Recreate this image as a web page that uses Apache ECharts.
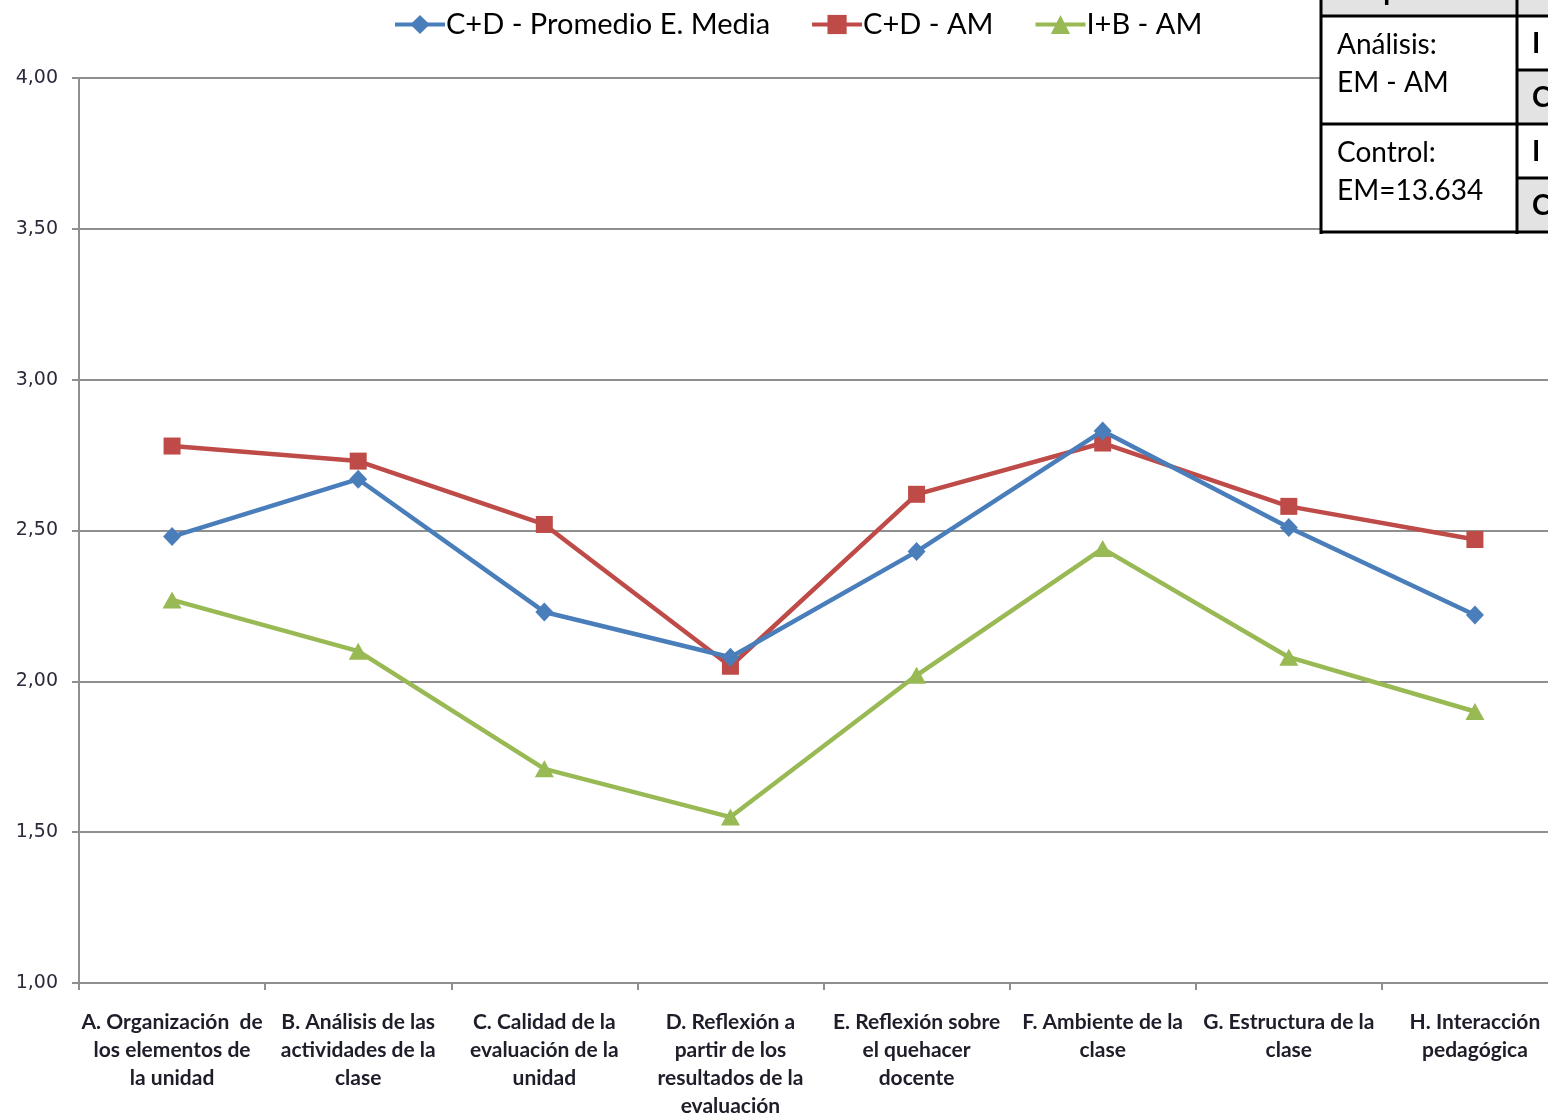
<!DOCTYPE html>
<html>
<head>
<meta charset="utf-8">
<script src="https://cdn.jsdelivr.net/npm/echarts@6/dist/echarts.min.js"></script>
<style>
html,body{margin:0;padding:0;background:#fff;overflow:hidden;width:1548px;height:1116px;}
#chart{width:1572px;height:1116px;}
</style>
</head>
<body>
<div id="chart"></div>
<script>
const categories = [
  "A. Organización  de\nlos elementos de\nla unidad",
  "B. Análisis de las\nactividades de la\nclase",
  "C. Calidad de la\nevaluación de la\nunidad",
  "D. Reflexión a\npartir de los\nresultados de la\nevaluación",
  "E. Reflexión sobre\nel quehacer\ndocente",
  "F. Ambiente de la\nclase",
  "G. Estructura de la\nclase",
  "H. Interacción\npedagógica"
];
const seriesNames = ["C+D - Promedio E. Media", "C+D - AM", "I+B - AM"];
const promedioEMedia = [2.48, 2.67, 2.23, 2.08, 2.43, 2.83, 2.51, 2.22];
const cdAM = [2.78, 2.73, 2.52, 2.05, 2.62, 2.79, 2.58, 2.47];
const ibAM = [2.27, 2.10, 1.71, 1.55, 2.02, 2.44, 2.08, 1.90];
const yMin = 1, yMax = 4, yStep = 0.5;
const tableLeftTexts = [["Análisis:", "EM - AM"], ["Control:", "EM=13.634"]];
const tableRightTexts = ["I", "C", "I", "C"];
const tableHeader = "Grupo";

const chart = echarts.init(document.getElementById('chart'));
const colors = ['#4A7EBB', '#BE4B48', '#98B954'];
const gridColor = '#8F8F8F';

// table drawing (graphic)
const tl = 1321, tm = 1517, tr = 1572;
const rowsY = [16, 70, 124, 178, 232];
const graphics = [];
graphics.push({type:'rect', z:100, shape:{x:tl, y:-10, width:tr-tl, height:26}, style:{fill:'#E3E3E3'}});
graphics.push({type:'rect', z:100, shape:{x:tl, y:16, width:tr-tl, height:216}, style:{fill:'#fff'}});
graphics.push({type:'rect', z:100, shape:{x:tm, y:70, width:tr-tm, height:54}, style:{fill:'#E3E3E3'}});
graphics.push({type:'rect', z:100, shape:{x:tm, y:178, width:tr-tm, height:54}, style:{fill:'#E3E3E3'}});
graphics.push({type:'text', z:101, x:1337, y:5, style:{text:tableHeader, font:'bold 28px Lato', fill:'#000', textVerticalAlign:'bottom'}});
tableLeftTexts.forEach((pair, i) => {
  const y0 = rowsY[i*2];
  graphics.push({type:'text', z:101, x:1337, y:y0+29, style:{text:pair[0], font:'28px Lato', fill:'#000', textVerticalAlign:'middle'}});
  graphics.push({type:'text', z:101, x:1337, y:y0+67, style:{text:pair[1], font:'28px Lato', fill:'#000', textVerticalAlign:'middle'}});
});
tableRightTexts.forEach((t, i) => {
  graphics.push({type:'text', z:101, x:1532, y:rowsY[i]+28, style:{text:t, font:'bold 28px Lato', fill:'#000', textVerticalAlign:'middle'}});
});
const L = (x1,y1,x2,y2) => ({type:'line', z:102, shape:{x1,y1,x2,y2}, style:{stroke:'#000', lineWidth:3}});
graphics.push(L(tl, -5, tl, 234));
graphics.push(L(tm, -5, tm, 234));
graphics.push(L(tl, 16, tr, 16));
graphics.push(L(tl, 124, tr, 124));
graphics.push(L(tl, 232, tr, 232));
graphics.push(L(tm, 70, tr, 70));
graphics.push(L(tm, 178, tr, 178));

const symbols = ['diamond', 'rect', 'triangle'];
const symbolSizes = [[18,19], 17, [19,17]];
const datas = [promedioEMedia, cdAM, ibAM];

chart.setOption({
  animation: false,
  backgroundColor: '#fff',
  color: colors,
  legend: {
    left: 388, top: 5,
    itemWidth: 50, itemHeight: 24, itemGap: 40,
    lineStyle: {width: 4},
    textStyle: {fontFamily: 'Lato', fontSize: 29, color: '#000', padding:[0,0,0,-4]},
    data: seriesNames
  },
  grid: {left: 79, top: 78, width: 1489, height: 905, containLabel: false, outerBoundsMode: 'none'},
  xAxis: {
    type: 'category',
    data: categories,
    boundaryGap: true,
    axisLine: {show: true, lineStyle: {color: gridColor, width: 2}},
    axisTick: {show: true, length: 7, interval: 0, lineStyle: {color: gridColor, width: 2}},
    axisLabel: {interval: 0, margin: 25, fontFamily: 'Lato', fontWeight: 'bold', fontSize: 21, lineHeight: 28, color: '#1E1E2A'}
  },
  yAxis: {
    type: 'value', min: yMin, max: yMax, interval: yStep,
    axisLine: {show: true, lineStyle: {color: gridColor, width: 2}},
    axisTick: {show: true, length: 7, lineStyle: {color: gridColor, width: 2}},
    splitLine: {show: true, lineStyle: {color: gridColor, width: 2}},
    axisLabel: {margin: 21, fontFamily: 'DejaVu Sans', fontSize: 19, color: '#2A2A3A',
      formatter: v => v.toFixed(2).replace('.', ',')}
  },
  series: seriesNames.map((n, i) => ({
    name: n, type: 'line', data: datas[i],
    symbol: symbols[i], symbolSize: symbolSizes[i], showAllSymbol: true,
    lineStyle: {width: 4.5, color: colors[i]},
    itemStyle: {color: colors[i]},
    z: 3 + (i === 0 ? 1 : 0)
  })),
  graphic: graphics
});
</script>
</body>
</html>
